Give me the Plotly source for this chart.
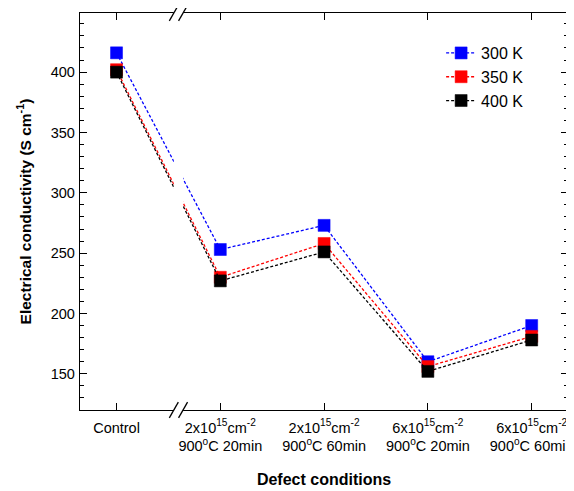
import plotly.graph_objects as go

categories = ["Control",
              "2x10<sup>15</sup>cm<sup>-2</sup><br>900<sup>o</sup>C 20min",
              "2x10<sup>15</sup>cm<sup>-2</sup><br>900<sup>o</sup>C 60min",
              "6x10<sup>15</sup>cm<sup>-2</sup><br>900<sup>o</sup>C 20min",
              "6x10<sup>15</sup>cm<sup>-2</sup><br>900<sup>o</sup>C 60min"]
x_pos = [0, 1, 2, 3, 4]
series_names = ["300 K", "350 K", "400 K"]
values_300K = [416, 253, 273, 160, 190]
values_350K = [402, 230, 258, 156, 181]
values_400K = [400, 227, 251, 152, 178]
colors = ["#0000FF", "#FF0000", "#000000"]

FONT = "Liberation Sans, Arial, sans-serif"

fig = go.Figure()
for name, vals, col in zip(series_names, [values_300K, values_350K, values_400K], colors):
    fig.add_trace(go.Scatter(
        x=x_pos, y=vals, name=name, mode="lines+markers",
        line=dict(color=col, width=1.3, dash="3px,2px"),
        marker=dict(symbol="square", size=12, color=col, line=dict(color=col, width=0.5)),
    ))

# axis break
bx0, bx1 = 0.552, 0.641
shapes = [dict(type="rect", xref="x", yref="paper", x0=bx0, x1=bx1, y0=-0.03, y1=1.03,
               fillcolor="white", line=dict(width=0), layer="above")]
dx, dy = 0.0434, 0.0197
for bx in (bx0, bx1):
    for yc in (0, 1):
        shapes.append(dict(type="line", xref="x", yref="paper",
                           x0=bx - dx, x1=bx + dx, y0=yc - dy, y1=yc + dy,
                           line=dict(color="black", width=1.3), layer="above"))

# page body has an 8px margin, so the figure is sized to fit the 574x491 window
fig.update_layout(
    width=566, height=483,
    margin=dict(l=72, r=6, t=5, b=81, autoexpand=False),
    paper_bgcolor="white", plot_bgcolor="white",
    font=dict(family=FONT, color="black", size=14.5),
    showlegend=True,
    legend=dict(x=0.74, y=0.942, xanchor="left", yanchor="top",
                font=dict(size=16, family=FONT), bgcolor="rgba(0,0,0,0)",
                tracegroupgap=0),
    shapes=shapes,
    xaxis=dict(
        range=[-0.352, 4.35], tickmode="array", tickvals=x_pos, ticktext=categories,
        showline=True, linecolor="black", linewidth=1.3, mirror="allticks",
        ticks="inside", ticklen=7, tickwidth=1.3, tickcolor="black",
        showgrid=False, zeroline=False, automargin=False,
        tickfont=dict(size=14.5, family=FONT),
        ticklabelstandoff=4,
        title=dict(text="<b>Defect conditions</b>", font=dict(size=16, family=FONT), standoff=20),
    ),
    yaxis=dict(
        range=[120, 449], tickmode="linear", tick0=150, dtick=50,
        showline=True, linecolor="black", linewidth=1.3, mirror="allticks",
        ticks="inside", ticklen=7, tickwidth=1.3, tickcolor="black",
        minor=dict(ticks="inside", ticklen=4, dtick=10, tick0=0, tickcolor="black", tickwidth=1),
        showgrid=False, zeroline=False, automargin=False,
        tickfont=dict(size=14.5, family=FONT),
        ticklabelstandoff=1,
        title=dict(text="<b>Electrical conductivity (S cm<sup>-1</sup>)</b>", font=dict(size=15.5, family=FONT), standoff=15),
    ),
)

fig.write_html("out.html")
